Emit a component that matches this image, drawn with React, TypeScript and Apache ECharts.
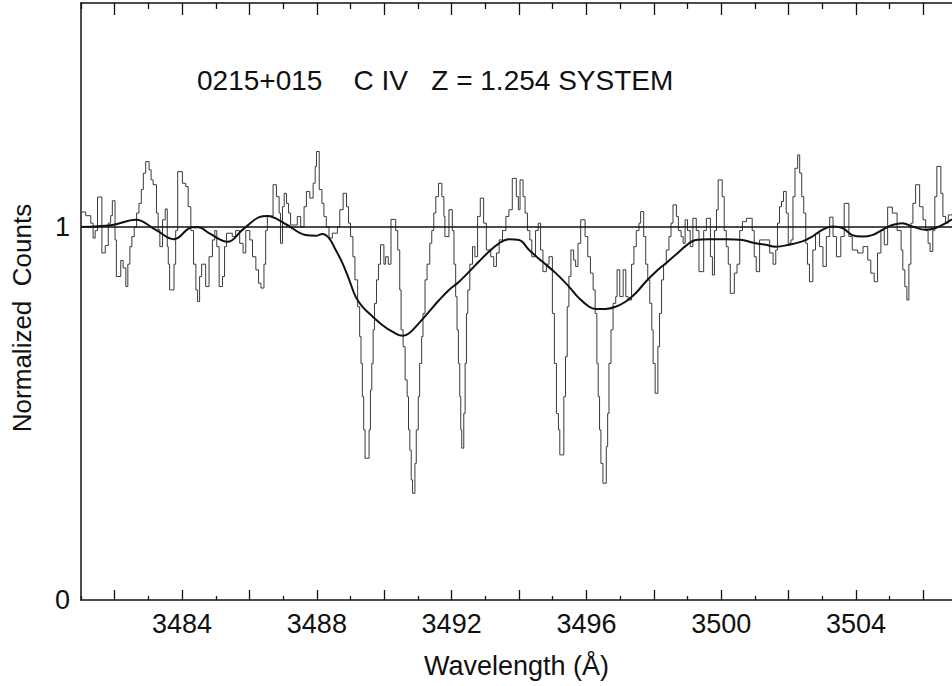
import React, { useEffect, useRef } from "react";
import * as echarts from "echarts";

const TITLE = "0215+015    C IV   Z = 1.254 SYSTEM";
const X_NAME = "Wavelength (Å)";
const Y_NAME = "Normalized  Counts";

const X_MIN = 3481;
const X_MAX = 3506.85;
const Y_MIN = 0;
const Y_MAX = 1.6;

const X_LABELS = [3484, 3488, 3492, 3496, 3500, 3504];
const X_TICKS_MAJOR = [3482, 3484, 3486, 3488, 3490, 3492, 3494, 3496, 3498, 3500, 3502, 3504, 3506];
const X_TICKS_MINOR = [3481, 3483, 3485, 3487, 3489, 3491, 3493, 3495, 3497, 3499, 3501, 3503, 3505];
const Y_LABELS = [0, 1];

const CONTINUUM_WAVE = [3481, 3506.85];
const CONTINUUM_FLUX = [1, 1];

const SPEC_WAVE = [
  3481.0, 3481.14, 3481.29, 3481.36, 3481.42, 3481.49, 3481.62, 3481.72, 3481.81, 3481.88,
  3481.93, 3482.01, 3482.05, 3482.18, 3482.25, 3482.33, 3482.39, 3482.45, 3482.51, 3482.58,
  3482.65, 3482.72, 3482.79, 3482.85, 3482.92, 3483.02, 3483.08, 3483.14, 3483.24, 3483.29,
  3483.34, 3483.42, 3483.5, 3483.56, 3483.59, 3483.63, 3483.76, 3483.81, 3483.87, 3484.01,
  3484.11, 3484.18, 3484.26, 3484.34, 3484.41, 3484.46, 3484.52, 3484.58, 3484.7, 3484.8,
  3484.9, 3484.97, 3485.03, 3485.1, 3485.2, 3485.26, 3485.32, 3485.49, 3485.59, 3485.71,
  3485.81, 3485.89, 3486.01, 3486.09, 3486.19, 3486.27, 3486.34, 3486.43, 3486.48, 3486.53,
  3486.7, 3486.8, 3486.88, 3486.92, 3486.98, 3487.03, 3487.1, 3487.16, 3487.22, 3487.42,
  3487.52, 3487.62, 3487.69, 3487.79, 3487.89, 3487.95, 3487.99, 3488.07, 3488.15, 3488.21,
  3488.28, 3488.36, 3488.46, 3488.61, 3488.68, 3488.78, 3488.88, 3488.94, 3489.0, 3489.07,
  3489.13, 3489.21, 3489.27, 3489.31, 3489.35, 3489.39, 3489.43, 3489.55, 3489.59, 3489.63,
  3489.67, 3489.71, 3489.77, 3489.83, 3489.89, 3489.99, 3490.04, 3490.12, 3490.2, 3490.34,
  3490.4, 3490.46, 3490.5, 3490.56, 3490.62, 3490.68, 3490.72, 3490.76, 3490.8, 3490.84,
  3490.91, 3490.95, 3491.01, 3491.05, 3491.11, 3491.15, 3491.21, 3491.27, 3491.35, 3491.41,
  3491.47, 3491.53, 3491.61, 3491.71, 3491.77, 3491.8, 3491.92, 3492.02, 3492.07, 3492.12,
  3492.16, 3492.2, 3492.24, 3492.27, 3492.3, 3492.36, 3492.4, 3492.44, 3492.48, 3492.54,
  3492.62, 3492.69, 3492.77, 3492.85, 3492.95, 3493.03, 3493.16, 3493.25, 3493.33, 3493.41,
  3493.51, 3493.61, 3493.7, 3493.8, 3493.92, 3493.98, 3494.03, 3494.12, 3494.18, 3494.25,
  3494.32, 3494.38, 3494.49, 3494.57, 3494.64, 3494.71, 3494.81, 3494.89, 3494.99, 3495.05,
  3495.11, 3495.17, 3495.21, 3495.33, 3495.38, 3495.43, 3495.48, 3495.54, 3495.62, 3495.68,
  3495.75, 3495.83, 3495.96, 3496.04, 3496.12, 3496.2, 3496.26, 3496.31, 3496.35, 3496.39,
  3496.43, 3496.49, 3496.59, 3496.63, 3496.67, 3496.73, 3496.79, 3496.87, 3496.91, 3496.99,
  3497.09, 3497.17, 3497.24, 3497.34, 3497.41, 3497.48, 3497.56, 3497.61, 3497.7, 3497.76,
  3497.82, 3497.88, 3497.94, 3497.98, 3498.04, 3498.12, 3498.17, 3498.23, 3498.29, 3498.37,
  3498.45, 3498.51, 3498.57, 3498.67, 3498.73, 3498.81, 3498.87, 3498.93, 3499.0, 3499.08,
  3499.16, 3499.26, 3499.34, 3499.48, 3499.56, 3499.68, 3499.74, 3499.8, 3499.86, 3499.91,
  3500.03, 3500.09, 3500.15, 3500.21, 3500.27, 3500.39, 3500.47, 3500.55, 3500.63, 3500.75,
  3500.92, 3500.98, 3501.04, 3501.14, 3501.44, 3501.54, 3501.62, 3501.67, 3501.73, 3501.79,
  3501.85, 3501.93, 3501.99, 3502.07, 3502.13, 3502.19, 3502.27, 3502.33, 3502.39, 3502.45,
  3502.51, 3502.56, 3502.62, 3502.72, 3502.8, 3502.92, 3503.02, 3503.12, 3503.22, 3503.32,
  3503.42, 3503.55, 3503.65, 3503.79, 3503.89, 3504.05, 3504.21, 3504.35, 3504.44, 3504.54,
  3504.64, 3504.74, 3504.84, 3504.94, 3505.08, 3505.22, 3505.34, 3505.39, 3505.45, 3505.51,
  3505.57, 3505.63, 3505.69, 3505.77, 3505.89, 3505.99, 3506.07, 3506.14, 3506.2, 3506.28,
  3506.34, 3506.4, 3506.52, 3506.58, 3506.66, 3506.74, 3506.85,
];

const SPEC_FLUX = [
  1.04, 1.03, 1.01, 0.97, 0.99, 1.08, 0.93, 0.95, 1.01, 1.03,
  1.07, 0.965, 0.867, 0.91, 0.89, 0.84, 0.9, 0.947, 0.974, 1.0,
  1.037, 1.063, 1.1, 1.144, 1.175, 1.153, 1.126, 1.113, 1.037, 0.992,
  0.947, 1.019, 1.048, 0.947, 0.9, 0.831, 0.9, 0.99, 1.148, 1.117,
  1.108, 1.054, 0.99, 0.9, 0.831, 0.8, 0.867, 0.9, 0.84, 0.92,
  0.965, 0.99, 0.947, 0.84, 0.867, 0.947, 0.983, 0.974, 0.99, 0.956,
  0.93, 0.99, 0.965, 0.92, 0.885, 0.849, 0.836, 0.9, 0.99, 1.029,
  1.113, 1.081, 1.037, 0.956, 1.054, 1.09, 1.063, 1.037, 1.005, 1.028,
  1.0, 1.054, 1.095, 1.077, 1.117, 1.162, 1.202, 1.1, 1.063, 1.028,
  1.0, 0.97, 0.983, 1.0, 1.046, 1.09, 1.054, 1.01, 0.974, 0.92,
  0.858, 0.786, 0.706, 0.634, 0.545, 0.456, 0.38, 0.456, 0.563, 0.634,
  0.724, 0.795, 0.858, 0.9, 0.952, 0.9, 0.92, 0.9, 1.02, 0.99,
  0.938, 0.831, 0.724, 0.679, 0.59, 0.545, 0.456, 0.402, 0.322, 0.286,
  0.366, 0.456, 0.545, 0.634, 0.706, 0.768, 0.858, 0.9, 0.956, 0.99,
  1.037, 1.081, 1.117, 1.081, 1.028, 0.974, 1.046, 0.99, 0.9, 0.813,
  0.724, 0.634, 0.545, 0.456, 0.407, 0.5, 0.634, 0.768, 0.831, 0.9,
  0.947, 0.92, 1.028, 1.077, 1.01, 0.938, 0.92, 0.894, 0.93, 0.965,
  0.99, 1.028, 1.046, 1.13, 1.081, 1.046, 1.126, 1.081, 1.037, 0.99,
  0.965, 0.92, 0.99, 1.01, 0.938, 0.88, 0.9, 0.92, 0.768, 0.634,
  0.5, 0.456, 0.389, 0.545, 0.652, 0.786, 0.867, 0.938, 0.911, 0.894,
  0.956, 1.019, 0.974, 0.92, 0.876, 0.831, 0.768, 0.634, 0.545, 0.456,
  0.366, 0.313, 0.411, 0.5, 0.634, 0.724, 0.795, 0.813, 0.885, 0.813,
  0.885, 0.813, 0.804, 0.9, 0.947, 0.99, 1.01, 1.041, 0.974, 0.9,
  0.858, 0.795, 0.724, 0.634, 0.554, 0.679, 0.768, 0.858, 0.9, 0.938,
  0.974, 1.01, 1.059, 1.028, 0.99, 0.974, 0.956, 1.019, 0.99, 0.947,
  1.023, 0.99, 0.88, 0.99, 1.023, 0.92, 0.871, 0.99, 1.046, 1.126,
  1.081, 0.99, 0.947, 0.9, 0.822, 0.876, 0.9, 0.99, 1.014, 1.023,
  0.99, 0.92, 0.88, 0.965, 0.93, 0.9, 0.938, 1.01, 1.054, 1.068,
  1.095, 1.037, 0.956, 0.965, 1.081, 1.157, 1.193, 1.144, 1.081, 1.037,
  0.956, 0.9, 0.853, 0.938, 0.983, 0.947, 0.894, 0.974, 1.026, 0.974,
  0.92, 0.974, 1.063, 0.974, 0.938, 0.93, 0.947, 0.911, 0.876, 0.853,
  0.93, 0.99, 0.952, 1.053, 1.037, 0.99, 0.938, 0.885, 0.84, 0.804,
  0.9, 1.01, 1.063, 1.113, 1.054, 1.019, 0.99, 0.956, 0.934, 0.99,
  1.081, 1.162, 1.09, 1.028, 1.01, 1.032, 1.032,
];

const FIT_WAVE = [
  3481.0, 3481.93, 3482.63, 3483.22, 3483.76, 3484.31, 3484.5, 3484.8, 3485.35, 3485.79,
  3486.29, 3486.53, 3487.08, 3487.67, 3487.97, 3488.16, 3488.36, 3488.56, 3488.76, 3488.96,
  3489.15, 3489.35, 3489.65, 3489.94, 3490.24, 3490.54, 3490.74, 3491.03, 3491.33, 3491.63,
  3491.92, 3492.22, 3492.52, 3492.81, 3493.11, 3493.41, 3493.7, 3494.0, 3494.3, 3494.69,
  3495.09, 3495.48, 3495.78, 3496.08, 3496.28, 3496.57, 3496.87, 3497.17, 3497.46, 3497.76,
  3498.06, 3498.35, 3498.65, 3498.95, 3499.24, 3499.64, 3500.13, 3500.63, 3500.92, 3501.32,
  3501.62, 3502.01, 3502.41, 3502.7, 3503.0, 3503.3, 3503.6, 3503.89, 3504.19, 3504.48,
  3504.78, 3505.08, 3505.38, 3505.67, 3506.07, 3506.36, 3506.66, 3506.85,
];

const FIT_FLUX = [
  1.0, 1.005, 1.019, 0.992, 0.967, 0.999, 0.999, 0.983, 0.96, 0.992,
  1.026, 1.029, 1.007, 0.978, 0.976, 0.981, 0.97, 0.938, 0.903, 0.858,
  0.813, 0.786, 0.76, 0.737, 0.719, 0.708, 0.715, 0.742, 0.773, 0.804,
  0.831, 0.853, 0.88, 0.907, 0.934, 0.956, 0.967, 0.965, 0.938, 0.907,
  0.876, 0.84, 0.809, 0.786, 0.78, 0.78, 0.786, 0.8, 0.822, 0.853,
  0.88, 0.902, 0.925, 0.949, 0.965, 0.967, 0.967, 0.965, 0.958, 0.952,
  0.947, 0.952, 0.961, 0.974, 0.992, 1.001, 0.997, 0.978, 0.974, 0.978,
  0.992, 1.005, 1.01, 1.001, 0.992, 0.997, 1.01, 1.02,
];

const FONT = "'Liberation Sans', Arial, Helvetica, sans-serif";
const INK = "#111";

function zip(xs: number[], ys: number[]): number[][] {
  return xs.map((x, i) => [x, ys[i]]);
}

export default function App() {
  const ref = useRef<HTMLDivElement>(null);

  useEffect(() => {
    if (!ref.current) return;
    const chart = echarts.init(ref.current, null, { renderer: "svg" });

    const axisLine = { show: true, lineStyle: { color: INK, width: 1.5 } };
    const baseX = {
      type: "value" as const,
      min: X_MIN,
      max: X_MAX,
      splitLine: { show: false },
    };

    chart.setOption({
      animation: false,
      backgroundColor: "#fff",
      title: {
        text: TITLE,
        left: 197,
        top: 66,
        padding: 0,
        textStyle: { fontFamily: FONT, fontSize: 28, fontWeight: "normal", color: INK },
      },
      graphic: [
        {
          type: "text",
          x: 22,
          y: 318,
          rotation: Math.PI / 2,
          style: {
            text: Y_NAME,
            fontFamily: FONT,
            fontSize: 26,
            fill: INK,
            textAlign: "center",
            textVerticalAlign: "middle",
          },
        },
      ],
      grid: { left: 81, right: 0, top: 3, bottom: 86, containLabel: false },
      xAxis: [
        {
          ...baseX,
          position: "bottom",
          axisLine,
          axisTick: {
            show: true,
            inside: true,
            length: 10,
            customValues: X_TICKS_MAJOR,
            lineStyle: { color: INK, width: 1.3 },
          },
          axisLabel: {
            show: true,
            customValues: X_LABELS,
            formatter: (v: number) => String(v),
            margin: 10,
            fontSize: 27,
            fontFamily: FONT,
            color: INK,
          },
          name: X_NAME,
          nameLocation: "middle",
          nameGap: 52,
          nameTextStyle: { fontSize: 27, fontFamily: FONT, color: INK },
        },
        {
          ...baseX,
          position: "bottom",
          axisLine: { show: false },
          axisTick: {
            show: true,
            inside: true,
            length: 4,
            customValues: X_TICKS_MINOR,
            lineStyle: { color: INK, width: 1.3 },
          },
          axisLabel: { show: false },
        },
        {
          ...baseX,
          position: "top",
          axisLine,
          axisTick: {
            show: true,
            inside: true,
            length: 12,
            customValues: X_TICKS_MAJOR,
            lineStyle: { color: INK, width: 1.3 },
          },
          axisLabel: { show: false },
        },
        {
          ...baseX,
          position: "top",
          axisLine: { show: false },
          axisTick: {
            show: true,
            inside: true,
            length: 6,
            customValues: X_TICKS_MINOR,
            lineStyle: { color: INK, width: 1.3 },
          },
          axisLabel: { show: false },
        },
      ],
      yAxis: {
        type: "value",
        min: Y_MIN,
        max: Y_MAX,
        position: "left",
        axisLine,
        axisTick: { show: false },
        splitLine: { show: false },
        axisLabel: {
          show: true,
          customValues: Y_LABELS,
          formatter: (v: number) => String(v),
          margin: 11,
          fontSize: 27,
          fontFamily: FONT,
          color: INK,
        },
      },
      series: [
        {
          name: "Spectrum",
          type: "line",
          xAxisIndex: 0,
          data: zip(SPEC_WAVE, SPEC_FLUX),
          step: "end",
          showSymbol: false,
          symbol: "none",
          lineStyle: { color: "#3a3a3a", width: 1 },
          z: 2,
        },
        {
          name: "Continuum",
          type: "line",
          xAxisIndex: 0,
          data: zip(CONTINUUM_WAVE, CONTINUUM_FLUX),
          showSymbol: false,
          symbol: "none",
          lineStyle: { color: INK, width: 1.5 },
          z: 3,
        },
        {
          name: "Fit",
          type: "line",
          xAxisIndex: 0,
          data: zip(FIT_WAVE, FIT_FLUX),
          smooth: 0.4,
          showSymbol: false,
          symbol: "none",
          lineStyle: { color: INK, width: 2 },
          z: 4,
        },
      ],
    });

    return () => chart.dispose();
  }, []);

  return (
    <div
      ref={ref}
      style={{ position: "fixed", left: 0, top: 0, width: 952, height: 686, background: "#fff" }}
    />
  );
}
